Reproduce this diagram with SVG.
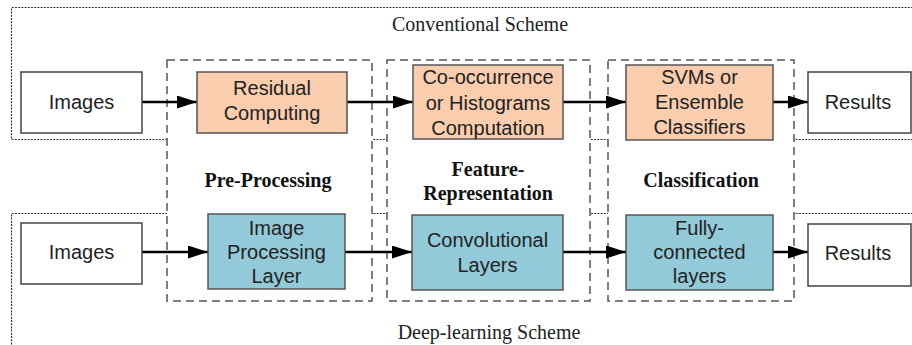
<svg xmlns="http://www.w3.org/2000/svg" width="912" height="345" viewBox="0 0 912 345">
  <style>
    .frame { fill: none; stroke: #333; stroke-width: 1.2; stroke-dasharray: 2 1.2; }
    .stage { fill: #fff; stroke: #555; stroke-width: 1.5; stroke-dasharray: 8 5; }
    .plain { fill: #fff; stroke: #444; stroke-width: 1.5; }
    .conv { fill: #f9cdae; stroke: #555; stroke-width: 1.5; }
    .deep { fill: #92cad9; stroke: #555; stroke-width: 1.5; }
    .node-text { font-family: "Liberation Sans", Arial, sans-serif; font-size: 20px; fill: #222; text-anchor: middle; }
    .scheme { font-family: "Liberation Serif", "Times New Roman", serif; font-size: 20px; fill: #222; text-anchor: middle; }
    .stage-title { font-family: "Liberation Serif", "Times New Roman", serif; font-size: 20px; font-weight: bold; fill: #111; text-anchor: middle; }
    .link { stroke: #000; stroke-width: 2.5; fill: none; marker-end: url(#arrow); }
  </style>
  <defs>
    <marker id="arrow" markerWidth="20" markerHeight="13" refX="20" refY="6.5" orient="auto" markerUnits="userSpaceOnUse">
      <path d="M0,0 L20,6.5 L0,13 Z" fill="#000"/>
    </marker>
  </defs>

  <rect width="912" height="345" fill="#fff"/>

  <!-- scheme frames (dotted) -->
  <g id="conventional-scheme">
    <polyline class="frame" points="913,7.5 11.5,7.5 11.5,139.5 913,139.5"/>
    <text class="scheme" x="480" y="31">Conventional Scheme</text>
  </g>
  <g id="deep-learning-scheme">
    <polyline class="frame" points="913,213.5 11.5,213.5 11.5,346"/>
    <text class="scheme" x="489" y="339">Deep-learning Scheme</text>
  </g>

  <!-- processing stages (dashed) -->
  <g id="stage-preprocessing">
    <rect class="stage" x="167" y="60" width="205" height="241"/>
    <text class="stage-title" x="268" y="187">Pre-Processing</text>
  </g>
  <g id="stage-feature">
    <rect class="stage" x="387" y="60" width="203" height="241"/>
    <text class="stage-title" x="488" y="176">Feature-</text>
    <text class="stage-title" x="488" y="200">Representation</text>
  </g>
  <g id="stage-classification">
    <rect class="stage" x="608" y="60" width="186" height="241"/>
    <text class="stage-title" x="701" y="187">Classification</text>
  </g>

  <!-- connectors -->
  <g id="connectors">
    <line class="link" x1="142" y1="102" x2="197" y2="102"/>
    <line class="link" x1="347" y1="102" x2="413" y2="102"/>
    <line class="link" x1="563" y1="102" x2="626" y2="102"/>
    <line class="link" x1="773" y1="102" x2="808" y2="102"/>
    <line class="link" x1="142" y1="252" x2="208" y2="252"/>
    <line class="link" x1="345" y1="252" x2="412" y2="252"/>
    <line class="link" x1="563" y1="252" x2="626" y2="252"/>
    <line class="link" x1="773" y1="252" x2="808" y2="252"/>
  </g>

  <!-- conventional pipeline -->
  <g id="images-top">
    <rect class="plain" x="21" y="72" width="121" height="61"/>
    <text class="node-text" x="81.5" y="109">Images</text>
  </g>
  <g id="residual-computing">
    <rect class="conv" x="197" y="72" width="150" height="61"/>
    <text class="node-text" x="272" y="95">Residual</text>
    <text class="node-text" x="272" y="120">Computing</text>
  </g>
  <g id="cooccurrence">
    <rect class="conv" x="413" y="65" width="150" height="74"/>
    <text class="node-text" x="488" y="84">Co-occurrence</text>
    <text class="node-text" x="488" y="110">or Histograms</text>
    <text class="node-text" x="488" y="135">Computation</text>
  </g>
  <g id="svm-classifiers">
    <rect class="conv" x="626" y="65" width="147" height="75"/>
    <text class="node-text" x="699.5" y="84">SVMs or</text>
    <text class="node-text" x="699.5" y="109">Ensemble</text>
    <text class="node-text" x="699.5" y="134">Classifiers</text>
  </g>
  <g id="results-top">
    <rect class="plain" x="808" y="72" width="103" height="61"/>
    <text class="node-text" x="858" y="109">Results</text>
  </g>

  <!-- deep-learning pipeline -->
  <g id="images-bottom">
    <rect class="plain" x="21" y="223" width="121" height="61"/>
    <text class="node-text" x="81.5" y="259">Images</text>
  </g>
  <g id="image-processing-layer">
    <rect class="deep" x="208" y="214" width="137" height="75"/>
    <text class="node-text" x="276.5" y="235">Image</text>
    <text class="node-text" x="276.5" y="259">Processing</text>
    <text class="node-text" x="276.5" y="283">Layer</text>
  </g>
  <g id="convolutional-layers">
    <rect class="deep" x="412" y="215" width="151" height="75"/>
    <text class="node-text" x="487.5" y="247">Convolutional</text>
    <text class="node-text" x="487.5" y="272">Layers</text>
  </g>
  <g id="fully-connected">
    <rect class="deep" x="626" y="215" width="147" height="75"/>
    <text class="node-text" x="699.5" y="235">Fully-</text>
    <text class="node-text" x="699.5" y="259">connected</text>
    <text class="node-text" x="699.5" y="283">layers</text>
  </g>
  <g id="results-bottom">
    <rect class="plain" x="808" y="224" width="103" height="62"/>
    <text class="node-text" x="858" y="260">Results</text>
  </g>
</svg>
